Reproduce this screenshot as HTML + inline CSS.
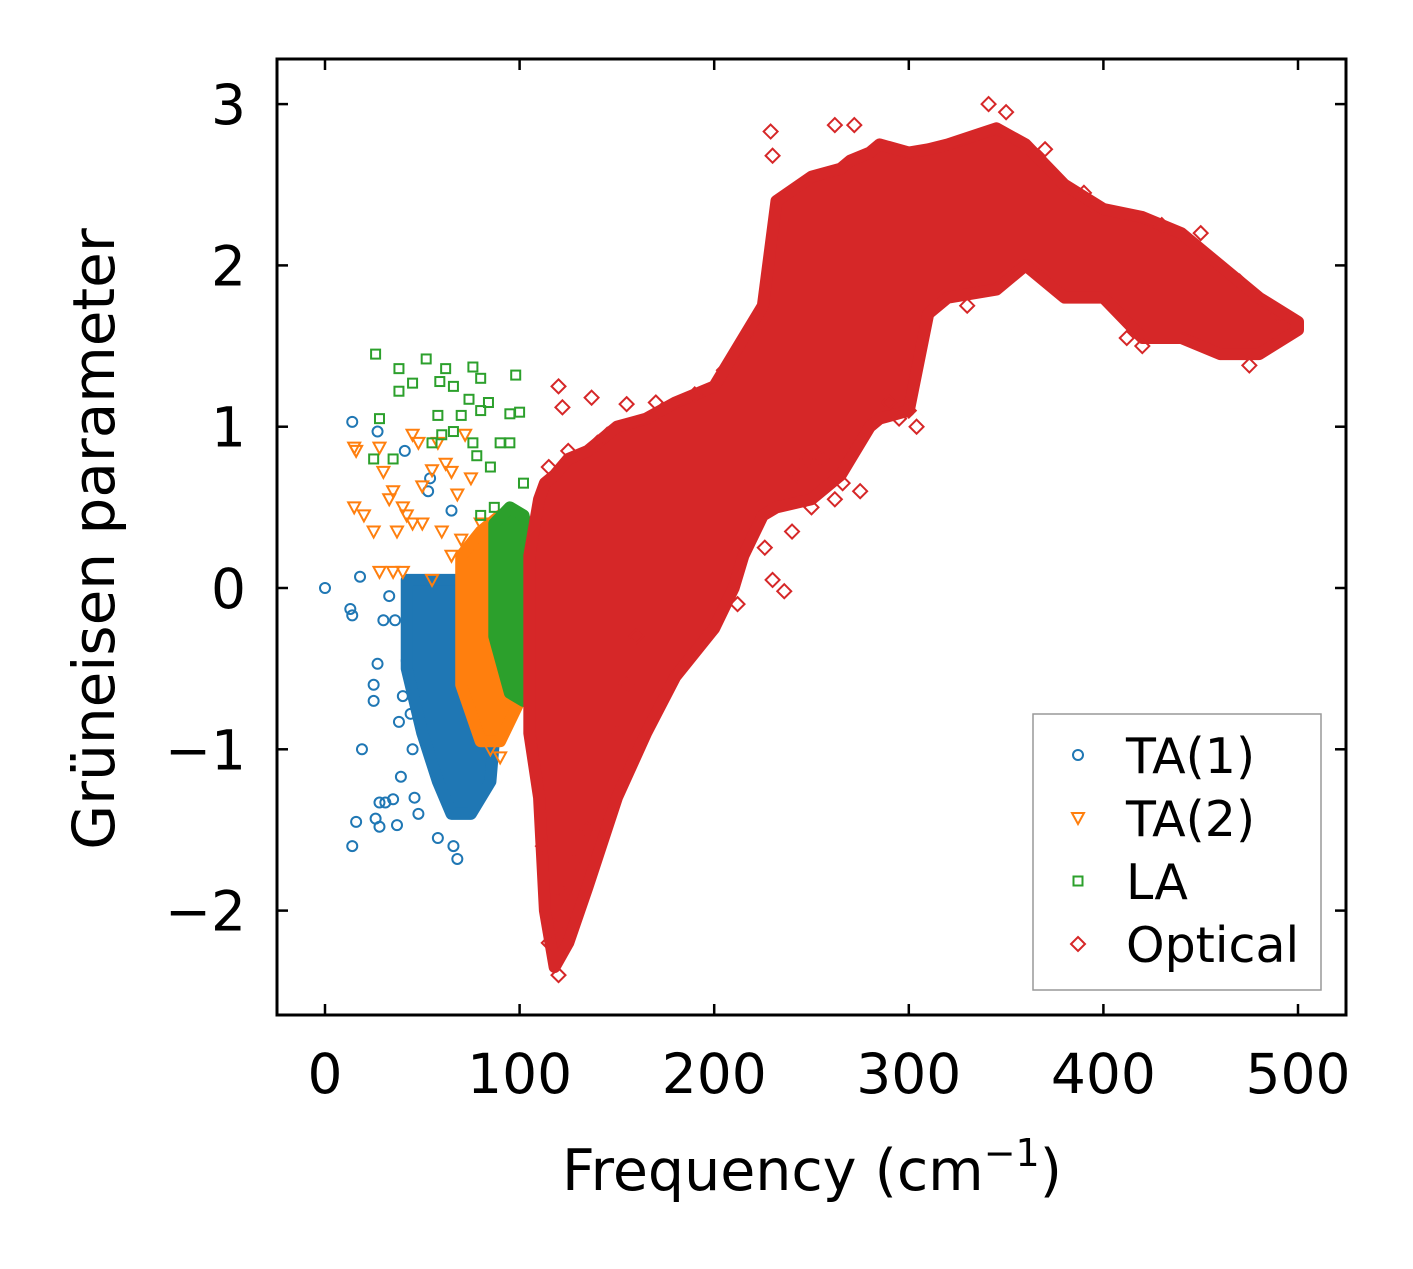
<!DOCTYPE html>
<html><head><meta charset="utf-8"><style>
body{margin:0;background:#fff}
svg text{font-family:"DejaVu Sans","Liberation Sans",sans-serif;fill:#000}
</style></head><body>
<svg width="1413" height="1264" xmlns="http://www.w3.org/2000/svg" id="chart">
<rect x="0" y="0" width="1413" height="1264" fill="#fff"/>
<g id="marks"></g>
<rect x="277" y="59" width="1069" height="956" fill="none" stroke="#000" stroke-width="3"/>
<g id="axes"></g>
<text x="812" y="1190" font-size="57" text-anchor="middle">Frequency (cm<tspan dy="-24" font-size="38">−1</tspan><tspan dy="24">)</tspan></text>
<text transform="translate(114,539) rotate(-90)" font-size="58" text-anchor="middle">Grüneisen parameter</text>
<g>
<rect x="1033" y="714" width="288" height="276" fill="#fff" stroke="#999" stroke-width="1.5"/>
<g id="legend"></g>
</g>
</svg>
<script>
const xTicks=[0,100,200,300,400,500];
const yTicks=[-2,-1,0,1,2,3];
const ta1X=[0,14,27,13,14,18,19,14,16,25,25,27,28,28,26,31,35,37,38,40,41,42,44,45,48,50,53,54,65,66,68,30,33,36,39,46,52,58,60];
const ta1Y=[0,1.03,0.97,-0.13,-0.17,0.07,-1.0,-1.6,-1.45,-0.6,-0.7,-0.47,-1.33,-1.48,-1.43,-1.33,-1.31,-1.47,-0.83,-0.67,0.85,-0.45,-0.78,-1.0,-1.4,-0.7,0.6,0.68,0.48,-1.6,-1.68,-0.2,-0.05,-0.2,-1.17,-1.3,-0.55,-1.55,-1.2];
const ta1BandX=[42,50,58,65,75,85,90];
const ta1BandUp=[0.05,0.05,0.05,0.05,0.05,0.0,-0.1];
const ta1BandLo=[-0.5,-0.9,-1.2,-1.4,-1.4,-1.2,-0.5];
const ta2X=[15,16,15,20,25,28,30,33,35,37,40,42,45,48,50,55,58,62,65,68,70,72,75,80,90,85,28,35,45,50,60,65,40,55];
const ta2Y=[0.87,0.85,0.5,0.45,0.35,0.87,0.72,0.55,0.6,0.35,0.5,0.45,0.95,0.9,0.63,0.73,0.9,0.77,0.72,0.58,0.3,0.95,0.68,0.4,-1.05,-1.0,0.1,0.1,0.4,0.4,0.35,0.2,0.1,0.05];
const ta2BandX=[70,80,90,100];
const ta2BandUp=[0.2,0.35,0.45,0.3];
const ta2BandLo=[-0.6,-0.95,-0.95,-0.7];
const laX=[26,38,52,62,76,80,98,38,45,59,66,74,84,28,58,70,80,95,100,55,60,66,76,90,95,25,35,78,85,102,87,80];
const laY=[1.45,1.36,1.42,1.36,1.37,1.3,1.32,1.22,1.27,1.28,1.25,1.17,1.15,1.05,1.07,1.07,1.1,1.08,1.09,0.9,0.95,0.97,0.9,0.9,0.9,0.8,0.8,0.82,0.75,0.65,0.5,0.45];
const laBandX=[87,95,102,107];
const laBandUp=[0.4,0.5,0.45,0.2];
const laBandLo=[-0.3,-0.65,-0.7,-0.7];
const optBandX=[105,110,113,118,125,135,150,165,180,200,210,215,225,232,250,265,270,280,285,300,310,320,345,360,380,400,420,440,460,480,500];
const optBandUp=[0.2,0.55,0.65,0.7,0.8,0.85,1.0,1.05,1.15,1.25,1.45,1.55,1.75,2.4,2.55,2.6,2.65,2.7,2.75,2.7,2.72,2.75,2.85,2.75,2.5,2.35,2.3,2.2,2.0,1.8,1.65];
const optBandLo=[-0.9,-1.3,-2.0,-2.35,-2.2,-1.85,-1.3,-0.9,-0.55,-0.25,0.0,0.2,0.45,0.5,0.55,0.7,0.8,1.0,1.05,1.1,1.7,1.8,1.85,2.0,1.8,1.8,1.55,1.55,1.45,1.45,1.6];
const optX=[120,122,137,155,229,262,272,341,230,115,125,140,250,262,275,240,230,236,160,155,150,135,120,115,412,420,475,290,300,255,243,248,266,278,295,304,118,123,128,112,145,170,190,205,220,330,350,370,390,430,450,470,490,212,226];
const optY=[1.25,1.12,1.18,1.14,2.83,2.87,2.87,3.0,2.68,0.75,0.85,0.9,0.5,0.55,0.6,0.35,0.05,-0.02,-0.3,-0.6,-0.9,-1.5,-2.4,-2.2,1.55,1.5,1.38,1.15,1.1,0.8,0.7,0.8,0.65,1.0,1.05,1.0,-2.1,-1.9,-1.7,-1.6,0.95,1.15,1.2,1.35,1.6,1.75,2.95,2.72,2.45,2.25,2.2,1.9,1.7,-0.1,0.25];
const legendLabels=["TA(1)","TA(2)","LA","Optical"];
const colors=["#1f77b4","#ff7f0e","#2ca02c","#d62728"];
const NS="http://www.w3.org/2000/svg";
const sx=v=>325+v*1.946;
const sy=v=>588-v*161.3;
const marks=document.getElementById('marks'),axes=document.getElementById('axes'),leg=document.getElementById('legend');
function mk(tag,attrs,parent){const e=document.createElementNS(NS,tag);for(const k in attrs)e.setAttribute(k,attrs[k]);parent.appendChild(e);return e;}
function marker(type,cx,cy,col,parent){
 let e;
 if(type==0)e=mk('circle',{cx:cx,cy:cy,r:5,fill:'none',stroke:col,'stroke-width':2},parent);
 else if(type==1)e=mk('polygon',{points:`${cx-6},${cy-5} ${cx+6},${cy-5} ${cx},${cy+6}`,fill:'none',stroke:col,'stroke-width':2},parent);
 else if(type==2)e=mk('rect',{x:cx-4.5,y:cy-4.5,width:9,height:9,fill:'none',stroke:col,'stroke-width':2},parent);
 else e=mk('polygon',{points:`${cx},${cy-7} ${cx+7},${cy} ${cx},${cy+7} ${cx-7},${cy}`,fill:'none',stroke:col,'stroke-width':2},parent);
 return e;
}
function band(xs,up,lo,col,name){
 let d='M'+xs.map((x,i)=>sx(x)+','+sy(up[i])).join(' L');
 d+=' L'+xs.slice().reverse().map((x,j)=>{const i=xs.length-1-j;return sx(x)+','+sy(lo[i]);}).join(' L')+'Z';
 const p=mk('path',{d:d,fill:col,stroke:col,'stroke-width':12,'stroke-linejoin':'round'},marks);
 
 
}
function pts(xs,ys,type,col,name){
 xs.forEach((x,i)=>{const e=marker(type,sx(x),sy(ys[i]),col,marks);
 
 });
}
pts(ta1X,ta1Y,0,colors[0],'ta1-point');band(ta1BandX,ta1BandUp,ta1BandLo,colors[0],'ta1-dense-region');
pts(ta2X,ta2Y,1,colors[1],'ta2-point');band(ta2BandX,ta2BandUp,ta2BandLo,colors[1],'ta2-dense-region');
pts(laX,laY,2,colors[2],'la-point');band(laBandX,laBandUp,laBandLo,colors[2],'la-dense-region');
band(optBandX,optBandUp,optBandLo,colors[3],'optical-dense-region');pts(optX,optY,3,colors[3],'optical-point');
xTicks.forEach(v=>{const x=sx(v);
 let t=mk('line',{x1:x,x2:x,y1:1015,y2:1004,stroke:'#000','stroke-width':2.5},axes);
 t=mk('line',{x1:x,x2:x,y1:59,y2:70,stroke:'#000','stroke-width':2.5},axes);
 const l=mk('text',{x:x,y:1093,'font-size':55,'text-anchor':'middle'},axes);l.textContent=v;
 });
yTicks.forEach(v=>{const y=sy(v);
 let t=mk('line',{x1:277,x2:288,y1:y,y2:y,stroke:'#000','stroke-width':2.5},axes);
 t=mk('line',{x1:1346,x2:1335,y1:y,y2:y,stroke:'#000','stroke-width':2.5},axes);
 const l=mk('text',{x:246,y:y+20,'font-size':55,'text-anchor':'end'},axes);l.textContent=v<0?'−'+Math.abs(v):v;
 });
legendLabels.forEach((s,i)=>{const y=755+i*63;
 const m=marker(i,1078,y,colors[i],leg);
 const t=mk('text',{x:1126,y:y+18,'font-size':49},leg);t.textContent=s;
 });
</script>
</body></html>
